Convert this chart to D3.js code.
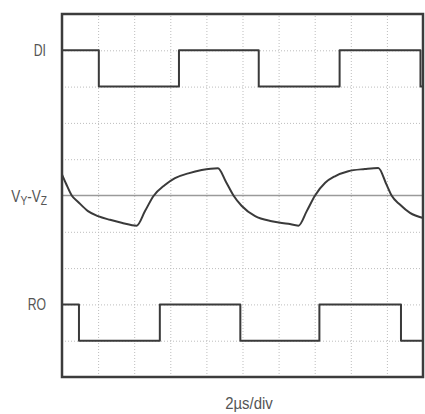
<!DOCTYPE html>
<html lang="en">
<head>
<meta charset="utf-8">
<title>DI / Vy-Vz / RO</title>
<style>
  body { margin: 0; background: #fff; }
  svg { display: block; }
  text { font-family: "Liberation Sans", Arial, sans-serif; fill: #555; }
  .grid line { stroke: #bdbdbd; stroke-dasharray: 1,2; }
  .grid path { display: none; }
</style>
</head>
<body>
<svg id="chart" width="425" height="414"></svg>
<script src="https://d3js.org/d3.v7.min.js"></script>
<script>
// time in divisions (2us/div), levels in divisions from screen center
const gridDivs = d3.range(1, 10)

const diTimes = [0, 1.02, 3.24, 5.45, 7.69, 9.93, 10]
const diLevels = [4, 3, 4, 3, 4, 3, 3]

const roTimes = [0, 0.47, 2.71, 4.94, 7.13, 9.39, 10]
const roLevels = [-3, -4, -3, -4, -3, -4, -4]

const vyzTimes = [0, 0.11, 0.27, 0.44, 0.72, 1.0, 1.33, 1.65, 2.07,
  2.30, 2.53, 2.85, 3.13, 3.50, 3.87, 4.32,
  4.54, 4.75, 4.98, 5.35, 5.81, 6.27, 6.55,
  6.78, 7.01, 7.29, 7.56, 7.93, 8.39, 8.76,
  8.99, 9.13, 9.36, 9.64, 10]
const vyzValues = [0.58, 0.33, 0.0, -0.17, -0.43, -0.57, -0.67, -0.75, -0.83,
  -0.43, -0.02, 0.29, 0.48, 0.61, 0.70, 0.75,
  0.38, 0.0, -0.29, -0.57, -0.71, -0.78, -0.83,
  -0.43, 0.0, 0.35, 0.53, 0.67, 0.73, 0.76,
  0.30, 0.0, -0.25, -0.48, -0.62]

const svg = d3.select("#chart")
const plotLeft = 62, plotRight = 423, plotTop = 14, plotBottom = 377

let x = d3.scaleLinear().domain([0, 10]).range([plotLeft, plotRight])
let y = d3.scaleLinear().domain([5, -5]).range([plotTop, plotBottom])

// dotted graticule
svg.append("g")
    .attr("class", "grid")
    .attr("transform", `translate(0, ${plotBottom})`)
    .call(d3.axisBottom(x).tickValues(gridDivs).tickSize(-(plotBottom - plotTop)).tickFormat(""))
svg.append("g")
    .attr("class", "grid")
    .attr("transform", `translate(${plotLeft}, 0)`)
    .call(d3.axisLeft(y).tickValues(gridDivs.map(d => 5 - d).filter(d => d != 0))
        .tickSize(-(plotRight - plotLeft)).tickFormat(""))

// Vy-Vz zero line
svg.append("line")
    .attr("x1", x(0)).attr("x2", x(10))
    .attr("y1", y(0)).attr("y2", y(0))
    .attr("stroke", "#9a9a9a")
    .attr("stroke-width", 1.5)

let stepLine = d3.line().curve(d3.curveStepAfter)
    .x(d => x(d[0])).y(d => y(d[1]))
let smoothLine = d3.line().curve(d3.curveMonotoneX)
    .x(d => x(d[0])).y(d => y(d[1]))

function trace(path) {
    svg.append("path")
        .attr("d", path)
        .attr("fill", "none")
        .attr("stroke", "#3a3a3a")
        .attr("stroke-width", 2)
        .attr("stroke-linejoin", "round")
}

trace(stepLine(d3.zip(diTimes, diLevels)))
trace(stepLine(d3.zip(roTimes, roLevels)))
trace(smoothLine(d3.zip(vyzTimes, vyzValues)))

// frame
svg.append("rect")
    .attr("x", plotLeft).attr("y", plotTop)
    .attr("width", plotRight - plotLeft).attr("height", plotBottom - plotTop)
    .attr("fill", "none")
    .attr("stroke", "#3c3c3c")
    .attr("stroke-width", 2.5)

// labels, narrow type
function label(px, py, anchor, sx) {
    return svg.append("text")
        .attr("transform", `translate(${px}, ${py}) scale(${sx}, 1)`)
        .attr("text-anchor", anchor)
        .attr("font-size", 17)
}

label(46, y(4) + 6, "end", 0.72).text("DI")
label(46, y(-3) + 6, "end", 0.72).text("RO")

let vz = label(47, y(0) + 6, "end", 0.85).attr("font-size", 16)
vz.append("tspan").text("V")
vz.append("tspan").attr("font-size", 12).attr("dy", 3).text("Y")
vz.append("tspan").attr("dy", -3).text("-V")
vz.append("tspan").attr("font-size", 12).attr("dy", 3).text("Z")

label(249, 409, "middle", 0.88).text("2µs/div")
</script>
</body>
</html>
